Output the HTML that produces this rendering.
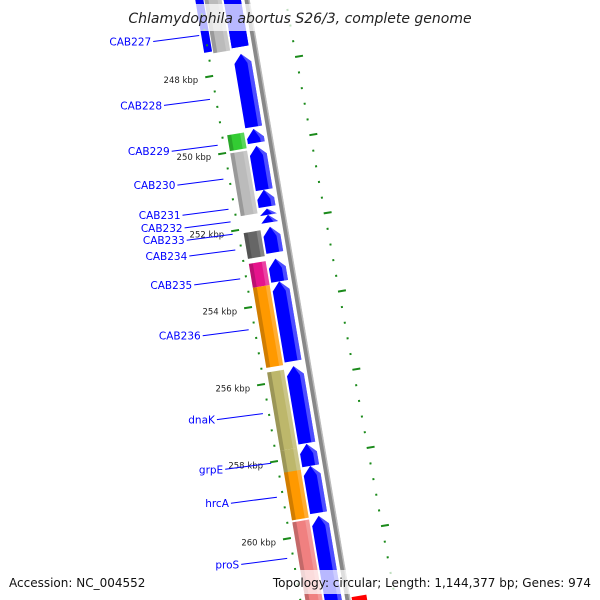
<!DOCTYPE html>
<html><head><meta charset="utf-8"><style>
html,body{margin:0;padding:0;background:#fff;width:600px;height:600px;overflow:hidden;position:relative;}
svg{display:block;font-family:"DejaVu Sans","Liberation Sans",sans-serif;position:absolute;left:0;top:0;}
</style></head><body>
<svg id="map" width="600" height="600" viewBox="0 0 600 600">
<rect width="600" height="600" fill="#fff"/>
<g id="marks"></g>
</svg>
<script>
// ---- data (kbp) ----
const featureStarts = [245.5, 245.5, 247.56, 249.51, 249.95, 251.09, 251.58, 251.74, 252.05, 252.88, 253.47, 255.67, 257.69, 258.26, 259.56];
const featureEnds   = [247.38, 247.38, 249.46, 249.87, 251.09, 251.53, 251.74, 251.94, 252.72, 253.47, 255.54, 257.67, 258.26, 259.48, 261.89];
const cogStarts = [245.5, 249.56, 250.03, 252.10, 252.90, 253.52, 255.72, 257.75, 258.32, 259.61];
const cogEnds   = [247.43, 249.97, 251.66, 252.77, 253.52, 255.60, 257.75, 258.34, 259.56, 261.89];
const cogColors = ["#bbbbbb","#33cc33","#bbbbbb","#666666","#e6148c","#ff9900","#bdb76b","#bdb76b","#ff9900","#f08080"];
const geneLabels = ["CAB227","CAB228","CAB229","CAB230","CAB231","CAB232","CAB233","CAB234","CAB235","CAB236","dnaK","grpE","hrcA","proS"];
const labelKbp   = [246.92, 248.58, 249.77, 250.65, 251.43, 251.76, 252.08, 252.49, 253.24, 254.56, 256.74, 258.03, 258.91, 260.50];
const tickLabels = [248, 250, 252, 254, 256, 258, 260];

// ---- geometry ----
const NS = "http://www.w3.org/2000/svg";
const A = 9.55*Math.PI/180, S = Math.sin(A), C = Math.cos(A);
const OX = 246, OY = 0;
function V(k){ return 69.4 + (k-248)*39.05; }
function P(u,v){ return [OX + u*C + v*S, OY - u*S + v*C]; }
const marks = document.getElementById('marks');
function poly(pts, fill, op){
  const p = document.createElementNS(NS,'polygon');
  p.setAttribute('points', pts.map(q=>P(q[0],q[1]).map(n=>n.toFixed(2)).join(',')).join(' '));
  p.setAttribute('fill', fill);
  if(op!==undefined) p.setAttribute('fill-opacity', op);
  marks.appendChild(p);
  return p;
}
function el(tag, attrs){
  const e = document.createElementNS(NS,tag);
  for(const k in attrs) e.setAttribute(k, attrs[k]);
  marks.appendChild(e);
  return e;
}

// backbone
(function(){
  const a = P(1,-20), b = P(1,V(264));
  const l = el('line',{x1:a[0],y1:a[1],x2:b[0],y2:b[1],stroke:'#888','stroke-width':5});
  
  
  const l2 = el('line',{x1:a[0]+2,y1:a[1],x2:b[0]+2,y2:b[1],stroke:'#bbb','stroke-width':1.5});
  
  
})();

// extra blue at top left
(function(){
  const p = poly([[-50,V(245.5)],[-42,V(245.5)],[-42,V(247.38)],[-50,V(247.38)]],'#0000ff');
  
  
})();

// COG-colored strip
for(let i=0;i<cogStarts.length;i++){
  const v1=V(cogStarts[i]), v2=V(cogEnds[i]);
  const p = poly([[-41,v1],[-24,v1],[-24,v2],[-41,v2]], cogColors[i]);
  
  
  const sh = poly([[-41,v1],[-37,v1],[-37,v2],[-41,v2]], '#000', 0.18);
  
  
  const hl = poly([[-28,v1],[-24,v1],[-24,v2],[-28,v2]], '#fff', 0.2);
  
  
}

// forward CDS strip (blue arrows pointing up)
for(let i=1;i<featureStarts.length;i++){
  const v1=V(featureStarts[i]), v2=V(featureEnds[i]);
  const head = Math.min(9, v2-v1);
  const p = poly([[-14,v1],[-5,v1+head],[-5,v2],[-22,v2],[-22,v1+head]], '#0000ff');
  
  
  const hl = poly([[-14,v1],[-5,v1+head],[-5,v2],[-9,v2],[-9,v1+head+1]], '#8080ff', 0.6);
  
  
}
(function(){
  const v1=V(featureStarts[0]), v2=V(featureEnds[0]);
  const p = poly([[-22,v1],[-5,v1],[-5,v2],[-22,v2]],'#0000ff');
  
  
})();

// reverse strand red feature at bottom
(function(){
  const v1=V(261.75), v2=V(263);
  const p = poly([[5,v1],[20,v1],[20,v2],[5,v2]],'#ff0000');
  
  
})();

// left ticks
for(let k=246.4;k<=262.01;k+=0.4){
  const kk = Math.round(k*10)/10;
  const v = V(kk);
  const major = Math.abs(kk/2 - Math.round(kk/2)) < 0.01;
  if(major){
    const p = poly([[-53,v-1],[-45,v-1],[-45,v+1],[-53,v+1]],'#1a8a1a');
    
    
  } else {
    const p = poly([[-47,v-1],[-45,v-1],[-45,v+1],[-47,v+1]],'#1a8a1a');
    
    
  }
}
tickLabels.forEach(function(k){
  const q = P(-53, V(k));
  const t = el('text',{x:(q[0]-7).toFixed(1),y:(q[1]+6).toFixed(1),'text-anchor':'end','font-size':'8.5',fill:'#222'});
  t.textContent = k + ' kbp';
  
  
});

// right ticks (inner scale)
function RY(k){ return 57 + (k-248)*39.1; }
function RX(y){ return 292 + 0.183*(y-40); }
for(let k=244.8;k<=262.01;k+=0.4){
  const kk = Math.round(k*10)/10;
  const y = RY(kk), x = RX(y);
  const major = Math.abs(kk/2 - Math.round(kk/2)) < 0.01;
  const r = el('rect',{x:x.toFixed(1),y:(y-1).toFixed(1),width:major?8:2,height:2,fill:'#1a8a1a',transform:'rotate(-9.5 '+x.toFixed(1)+' '+y.toFixed(1)+')'});
  
  
}

// gene labels
geneLabels.forEach(function(name,i){
  const e = P(-52, V(labelKbp[i]));
  const sx = e[0]-46, sy = e[1]+6;
  const l = el('line',{x1:sx.toFixed(1),y1:sy.toFixed(1),x2:e[0].toFixed(1),y2:e[1].toFixed(1),stroke:'#0000ff','stroke-width':1});
  
  
  const t = el('text',{x:(sx-2).toFixed(1),y:(sy+4).toFixed(1),'text-anchor':'end','font-size':'10.5',fill:'#0000ff'});
  t.textContent = name;
  
  
});
</script>
<svg width="600" height="600" viewBox="0 0 600 600">
<rect x="124" y="4" width="352" height="27" fill="#fff" fill-opacity="0.72"/>
<text x="300" y="23" text-anchor="middle" font-size="14" font-style="italic" fill="#222" font-family="DejaVu Sans, Liberation Sans, sans-serif">Chlamydophila abortus S26/3, complete genome</text>
<rect x="4" y="570" width="142" height="24" fill="#fff" fill-opacity="0.72"/>
<text x="9" y="587" font-size="12" fill="#111" font-family="DejaVu Sans, Liberation Sans, sans-serif">Accession: NC_004552</text>
<rect x="268" y="570" width="328" height="24" fill="#fff" fill-opacity="0.72"/>
<text x="591" y="587" text-anchor="end" font-size="12" fill="#111" font-family="DejaVu Sans, Liberation Sans, sans-serif">Topology: circular; Length: 1,144,377 bp; Genes: 974</text>
</svg>
</body></html>
